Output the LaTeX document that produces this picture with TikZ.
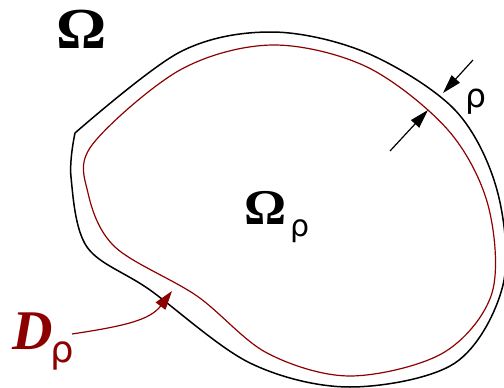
\documentclass[tikz,border=0pt]{standalone}
\usepackage{fontspec}
\setmainfont{Liberation Serif}
\newfontfamily\rhofont{DejaVu Sans}
\usetikzlibrary{arrows.meta}
\definecolor{dred}{RGB}{140,0,0}
\tikzset{
  outerline/.style={line width=1.5pt, black, line join=round},
  innerline/.style={line width=1.2pt, dred},
  arr/.style={line width=1.2pt, -{Triangle[length=19pt,width=11pt]}},
  lbl/.style={inner sep=0pt, outer sep=0pt}
}
\begin{document}
\begin{tikzpicture}[x=1pt,y=-1pt]
\useasboundingbox (0,0) rectangle (504,388);
% outer boundary
\draw[outerline] plot[smooth, tension=0.55] coordinates {
 (75,133) (180,52) (272,32) (367,53) (455,110) (497,190) (503,285)
 (455,363) (350,387) (250,363) (150,290) (87,247) (71,177) (75,133)};
% inner boundary
\draw[innerline] plot[smooth cycle, tension=0.55] coordinates {
 (92,145) (180,70) (272,45) (367,67) (448,130) (488,205) (492,293)
 (443,353) (350,376) (267,353) (197,296) (115,247) (88,193)};
% rho arrows
\coordinate (a1s) at (473,60);
\coordinate (a1e) at (443,93);
\coordinate (a2s) at (390,151);
\coordinate (a2e) at (428,110);
\draw[arr] (a1s) -- (a1e);
\draw[arr] (a2s) -- (a2e);
\node[lbl] (rho) at (476,102) {\rhofont\fontsize{33}{33}\selectfont ρ};
% labels
\node[lbl, xscale=1.08] (Om) at (82,29) {\fontsize{58}{58}\selectfont\bfseries Ω};
\node[lbl, xscale=1.05] (Omr) at (266,208) {\fontsize{50}{50}\selectfont\bfseries Ω};
\node[lbl] (Omrs) at (300,231) {\rhofont\fontsize{30}{30}\selectfont ρ};
\node[lbl, text=dred] (D) at (33,331) {\fontsize{56}{56}\selectfont\bfseries\itshape D};
\node[lbl, text=dred] (Ds) at (62,356) {\rhofont\fontsize{37}{37}\selectfont ρ};
\coordinate (dstart) at (72,334);
\coordinate (dend) at (172,291);
\draw[innerline, -{Triangle[length=19pt,width=12pt]}] (dstart) .. controls (125,326) and (150,320) .. (dend);
\end{tikzpicture}
\end{document}
